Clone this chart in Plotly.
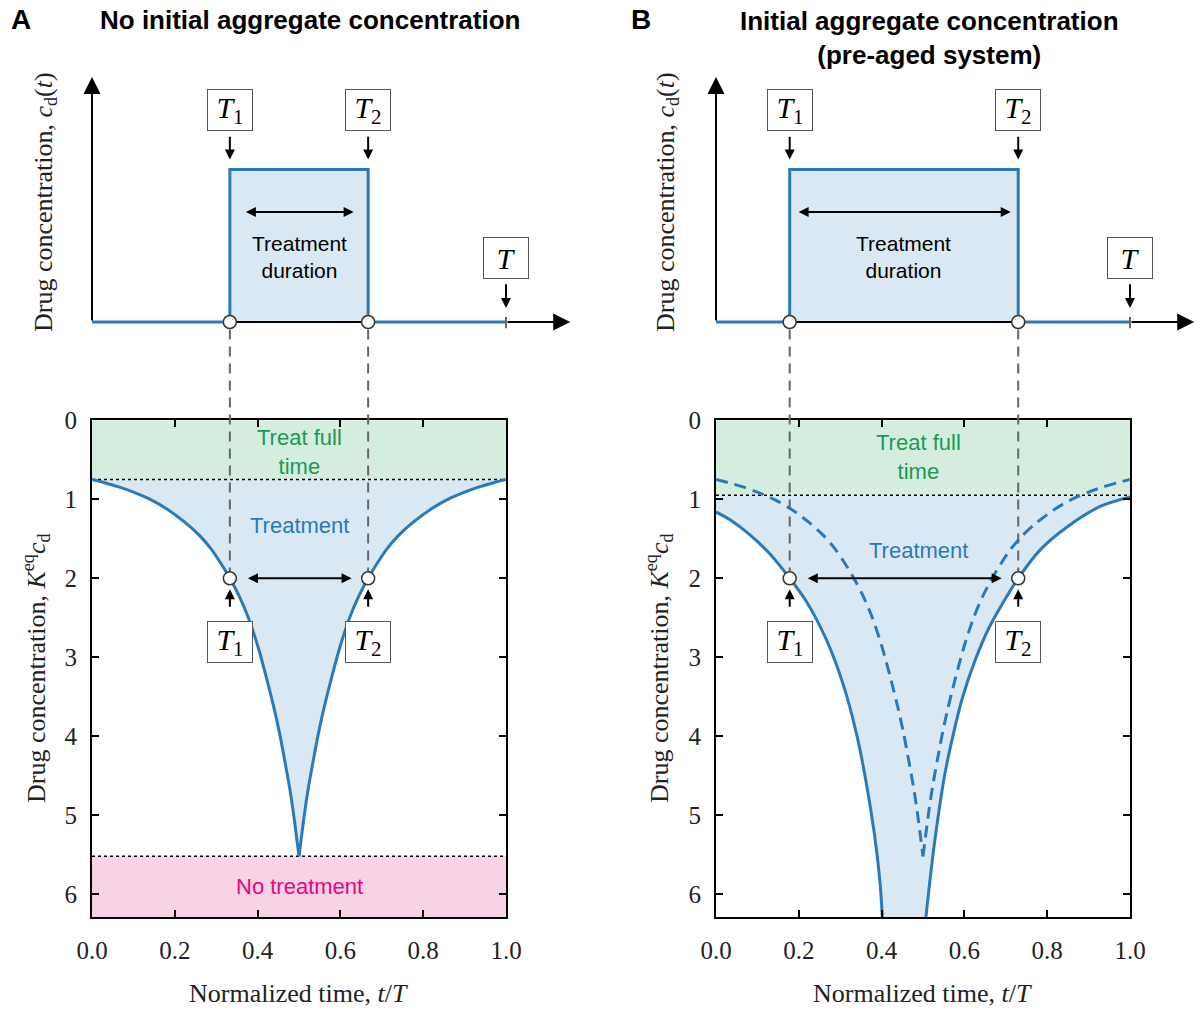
import plotly.graph_objects as go

W, H = 1198, 1011

# ---------------- data ----------------
# schematic (top row): treatment window and pulse level
a_T1, a_T2 = 0.333, 0.667
b_T1, b_T2 = 0.178, 0.730
T_end = 1.0
pulse_level = 0.6
marker_level = 2.0          # K^eq c_d level used to read T1, T2

# phase diagrams (bottom row)
a_full, a_none = 0.75, 5.52  # thresholds panel A
b_full = 0.95                # threshold panel B
y_bottom = 6.29

# panel A boundary (also the dashed curve in panel B)
a_left_t = [0.0, 0.03, 0.063, 0.10, 0.144, 0.18, 0.224, 0.26, 0.288, 0.31, 0.333,
            0.355, 0.377, 0.40, 0.421, 0.44, 0.453, 0.466, 0.477, 0.486, 0.493, 0.5]
a_left_y = [0.75, 0.79, 0.84, 0.91, 1.01, 1.12, 1.29, 1.46, 1.63, 1.80, 2.0,
            2.22, 2.49, 2.85, 3.25, 3.65, 3.96, 4.32, 4.64, 4.95, 5.23, 5.52]
a_right_t = [0.5, 0.507, 0.514, 0.523, 0.534, 0.547, 0.56, 0.579, 0.60, 0.623, 0.645,
             0.667, 0.69, 0.712, 0.74, 0.776, 0.82, 0.856, 0.90, 0.937, 0.97, 1.0]
a_right_y = [5.52, 5.23, 4.95, 4.64, 4.32, 3.96, 3.65, 3.25, 2.85, 2.49, 2.22,
             2.0, 1.80, 1.63, 1.46, 1.29, 1.12, 1.01, 0.91, 0.84, 0.79, 0.75]

# panel B solid boundary (pre-aged system)
b_left_t = [0.0, 0.034, 0.082, 0.130, 0.178, 0.218, 0.266, 0.307, 0.339, 0.363, 0.383, 0.396, 0.402]
b_left_y = [1.16, 1.26, 1.45, 1.69, 2.0, 2.29, 2.77, 3.34, 3.96, 4.59, 5.25, 5.84, 6.29]
b_right_t = [0.507, 0.513, 0.524, 0.537, 0.552, 0.572, 0.596, 0.625, 0.660, 0.700, 0.730, 0.783, 0.848, 0.928, 1.0]
b_right_y = [6.29, 6.0, 5.5, 5.0, 4.5, 4.0, 3.5, 3.05, 2.62, 2.25, 2.0, 1.64, 1.35, 1.09, 0.97]

x_ticks = [0.0, 0.2, 0.4, 0.6, 0.8, 1.0]
x_ticktext = ['0.0', '0.2', '0.4', '0.6', '0.8', '1.0']
y_ticks = [0, 1, 2, 3, 4, 5, 6]

# ---------------- style ----------------
SERIF = 'Liberation Serif, Times New Roman, serif'
SANS = 'Liberation Sans, Arial, sans-serif'
BLUE = '#2a7ab9'
BLUE_FILL = '#dae8f3'
GREEN_FILL = '#d5eddf'
PINK_FILL = '#f8d3e6'
GREEN_TXT = '#1a9a52'
PINK_TXT = '#e6067f'
GREY = '#666666'

TOP_RANGE_X = [0, 1.16]
TOP_RANGE_Y = [-0.1, 1.0]
PX_UNIT = 414


def dom_x(p0, p1):
    return [p0 / W, min(p1 / W, 1.0)]


def dom_y(ptop, pbot):
    return [1 - pbot / H, 1 - ptop / H]


top_dom_y = dom_y(68, 347.4)
bot_dom_y = dom_y(420.3, 917.2)


def top_paper(v):
    return top_dom_y[0] + (v - TOP_RANGE_Y[0]) / (TOP_RANGE_Y[1] - TOP_RANGE_Y[0]) * (top_dom_y[1] - top_dom_y[0])


def bot_paper(v):
    return bot_dom_y[1] - v / y_bottom * (bot_dom_y[1] - bot_dom_y[0])


fig = go.Figure()
annotations = []
shapes = []


def arrow(xref, yref, x, y, ax, ay, both=False, size=1.0, head=2):
    d = dict(xref=xref, yref=yref, axref=xref, ayref=yref, x=x, y=y, ax=ax, ay=ay,
             text='', showarrow=True, arrowhead=head, arrowsize=size, arrowwidth=2,
             arrowcolor='black', standoff=0, startstandoff=0)
    if both:
        d.update(arrowside='end+start', startarrowhead=head, startarrowsize=size)
    annotations.append(d)


def tbox(xref, yref, x, y, sub):
    txt = '<i>T</i>' + (f'<sub>{sub}</sub>' if sub else '')
    annotations.append(dict(xref=xref, yref=yref, x=x, y=y, text=txt, showarrow=False,
                            font=dict(family=SERIF, size=30, color='black'),
                            bordercolor='#555', borderwidth=1, borderpad=2,
                            bgcolor='white', width=40, height=36,
                            xanchor='center', yanchor='middle'))


def schematic(xa, ya, T1, T2, gap):
    fig.add_trace(go.Scatter(x=[T1, T1, T2, T2], y=[0, pulse_level, pulse_level, 0],
                             fill='toself', fillcolor=BLUE_FILL, mode='lines',
                             line=dict(width=0), xaxis=xa, yaxis=ya, hoverinfo='skip'))
    fig.add_trace(go.Scatter(x=[0, T_end], y=[0, 0], mode='lines',
                             line=dict(color='black', width=2), xaxis=xa, yaxis=ya))
    fig.add_trace(go.Scatter(x=[0, T1, T1, T2, T2, T_end], y=[0, 0, pulse_level, pulse_level, 0, 0],
                             mode='lines', line=dict(color=BLUE, width=3), xaxis=xa, yaxis=ya))
    fig.add_trace(go.Scatter(x=[T_end, T_end], y=[-0.025, 0.02], mode='lines',
                             line=dict(color=GREY, width=2), xaxis=xa, yaxis=ya))
    fig.add_trace(go.Scatter(x=[T1, T2], y=[0, 0], mode='markers', cliponaxis=False,
                             marker=dict(size=13, color='white', line=dict(color='#333', width=1.5)),
                             xaxis=xa, yaxis=ya))
    # axes arrows
    arrow(xa, ya, 0, 0.965, 0, 0, size=1.7)
    arrow(xa, ya, 1.155, 0, T_end, 0, size=1.7)
    for T, s in ((T1, '1'), (T2, '2')):
        tbox(xa, ya, T, 0.835, s)
        arrow(xa, ya, T, 0.64, T, 0.735)
    tbox(xa, ya, T_end, 0.252, '')
    arrow(xa, ya, T_end, 0.055, T_end, 0.155)
    arrow(xa, ya, T2 - gap, 0.433, T1 + gap, 0.433, both=True)
    annotations.append(dict(xref=xa, yref=ya, x=(T1 + T2) / 2, y=0.255, showarrow=False,
                            text='Treatment<br>duration', font=dict(family=SANS, size=21, color='black')))
    annotations.append(dict(xref=xa, yref=ya, x=1.053, y=-0.13, showarrow=False,
                            text='Time, <i>t</i>', font=dict(family=SERIF, size=26, color='#222')))


def connectors(xa, T1, T2):
    for T in (T1, T2):
        shapes.append(dict(type='line', xref=xa, yref='paper', x0=T, x1=T,
                           y0=top_paper(-0.03), y1=bot_paper(marker_level - 0.09),
                           line=dict(color=GREY, width=2, dash='10px,7px'), layer='above'))


def band(xa, ya, y0, y1, color):
    fig.add_trace(go.Scatter(x=[0, 1, 1, 0], y=[y0, y0, y1, y1], fill='toself', fillcolor=color,
                             mode='lines', line=dict(width=0), xaxis=xa, yaxis=ya, hoverinfo='skip'))


def hdot(xa, ya, yv):
    fig.add_trace(go.Scatter(x=[0, 1], y=[yv, yv], mode='lines',
                             line=dict(color='black', width=1.5, dash='dot'), xaxis=xa, yaxis=ya))


def curve(xa, ya, t, y, dash='solid'):
    fig.add_trace(go.Scatter(x=t, y=y, mode='lines', line=dict(color=BLUE, width=3, dash=dash,
                                                                 shape='spline', smoothing=0.8),
                             xaxis=xa, yaxis=ya))


def markers_bottom(xa, ya, T1, T2):
    fig.add_trace(go.Scatter(x=[T1, T2], y=[marker_level, marker_level], mode='markers', cliponaxis=False,
                             marker=dict(size=13, color='white', line=dict(color='#333', width=1.5)),
                             xaxis=xa, yaxis=ya))
    arrow(xa, ya, T2 - 0.04, marker_level, T1 + 0.04, marker_level, both=True)
    for T, s in ((T1, '1'), (T2, '2')):
        arrow(xa, ya, T, marker_level + 0.14, T, marker_level + 0.38)
        tbox(xa, ya, T, marker_level + 0.8, s)


# ---------------- panel A ----------------
schematic('x', 'y', a_T1, a_T2, 0.035)
band('x3', 'y3', 0, a_full, GREEN_FILL)
band('x3', 'y3', a_none, y_bottom, PINK_FILL)
fig.add_trace(go.Scatter(x=a_left_t + a_right_t[1:], y=a_left_y + a_right_y[1:], fill='toself',
                         fillcolor=BLUE_FILL, mode='lines', line=dict(width=0, shape='spline', smoothing=0.8),
                         xaxis='x3', yaxis='y3', hoverinfo='skip'))
hdot('x3', 'y3', a_full)
hdot('x3', 'y3', a_none)
curve('x3', 'y3', a_left_t, a_left_y)
curve('x3', 'y3', a_right_t, a_right_y)
markers_bottom('x3', 'y3', a_T1, a_T2)
connectors('x3', a_T1, a_T2)
annotations += [
    dict(xref='x3', yref='y3', x=0.5, y=0.40, text='Treat full<br>time', showarrow=False,
         font=dict(family=SANS, size=22, color=GREEN_TXT)),
    dict(xref='x3', yref='y3', x=0.5, y=1.33, text='Treatment', showarrow=False,
         font=dict(family=SANS, size=22, color=BLUE)),
    dict(xref='x3', yref='y3', x=0.5, y=5.9, text='No treatment', showarrow=False,
         font=dict(family=SANS, size=22, color=PINK_TXT)),
]

# ---------------- panel B ----------------
schematic('x2', 'y2', b_T1, b_T2, 0.018)
band('x4', 'y4', 0, b_full, GREEN_FILL)
fig.add_trace(go.Scatter(x=[0] + b_left_t + b_right_t + [1], y=[b_full] + b_left_y + b_right_y + [b_full],
                         fill='toself', fillcolor=BLUE_FILL, mode='lines',
                         line=dict(width=0, shape='spline', smoothing=0.8),
                         xaxis='x4', yaxis='y4', hoverinfo='skip'))
hdot('x4', 'y4', b_full)
curve('x4', 'y4', a_left_t, a_left_y, dash='12px,7px')
curve('x4', 'y4', a_right_t, a_right_y, dash='12px,7px')
curve('x4', 'y4', b_left_t, b_left_y)
curve('x4', 'y4', b_right_t, b_right_y)
markers_bottom('x4', 'y4', b_T1, b_T2)
connectors('x4', b_T1, b_T2)
annotations += [
    dict(xref='x4', yref='y4', x=0.488, y=0.47, text='Treat full<br>time', showarrow=False,
         font=dict(family=SANS, size=22, color=GREEN_TXT)),
    dict(xref='x4', yref='y4', x=0.488, y=1.65, text='Treatment', showarrow=False,
         font=dict(family=SANS, size=22, color=BLUE)),
]

# ---------------- page texts ----------------
def ptext(x, y, text, size, family=SERIF, angle=0, color='black'):
    annotations.append(dict(xref='paper', yref='paper', x=x / W, y=1 - y / H, text=text,
                            showarrow=False, textangle=angle, xanchor='center', yanchor='middle',
                            font=dict(family=family, size=size, color=color)))


ptext(21, 20, '<b>A</b>', 28, SANS)
ptext(641, 20, '<b>B</b>', 28, SANS)
ptext(310, 20, '<b>No initial aggregate concentration</b>', 26, SANS)
ptext(929, 38, '<b>Initial aggregate concentration</b><br><b>(pre-aged system)</b>', 26, SANS)
ytop = 'Drug concentration, <i>c</i><sub>d</sub>(<i>t</i>)'
ybot = 'Drug concentration, <i>K</i><sup>eq</sup><i>c</i><sub>d</sub>'
xbot = 'Normalized time, <i>t</i>/<i>T</i>'
ptext(45, 202, ytop, 26, angle=-90, color='#222')
ptext(667, 202, ytop, 26, angle=-90, color='#222')
ptext(36, 668, ybot, 26, angle=-90, color='#222')
ptext(659, 668, ybot, 26, angle=-90, color='#222')
ptext(298, 993, xbot, 26, color='#222')
ptext(922, 993, xbot, 26, color='#222')

# ---------------- axes ----------------
hidden = dict(visible=False, showgrid=False, zeroline=False, fixedrange=True, automargin=False)
bot_x = dict(range=[0, 1], tickvals=x_ticks, ticktext=x_ticktext, showline=True, linecolor='black',
             linewidth=2, mirror='ticks', ticks='inside', ticklen=7, tickwidth=2, tickcolor='black',
             showgrid=False, zeroline=False, ticklabelstandoff=10, automargin=False,
             tickfont=dict(family=SERIF, size=25, color='#222'))
bot_y = dict(range=[y_bottom, 0], tickvals=y_ticks, showline=True, linecolor='black',
             linewidth=2, mirror='ticks', ticks='inside', ticklen=7, tickwidth=2, tickcolor='black',
             showgrid=False, zeroline=False, ticklabelstandoff=8, automargin=False,
             tickfont=dict(family=SERIF, size=25, color='#222'))

fig.update_layout(
    width=W, height=H, margin=dict(l=0, r=0, t=0, b=0, autoexpand=False),
    paper_bgcolor='white', plot_bgcolor='rgba(0,0,0,0)', showlegend=False,
    xaxis=dict(domain=dom_x(92, 92 + 1.16 * PX_UNIT), range=TOP_RANGE_X, anchor='y', **hidden),
    yaxis=dict(domain=top_dom_y, range=TOP_RANGE_Y, anchor='x', **hidden),
    xaxis2=dict(domain=dom_x(716, 716 + 1.16 * PX_UNIT), range=TOP_RANGE_X, anchor='y2', **hidden),
    yaxis2=dict(domain=top_dom_y, range=TOP_RANGE_Y, anchor='x2', **hidden),
    xaxis3=dict(domain=dom_x(92, 506), anchor='y3', **bot_x),
    yaxis3=dict(domain=bot_dom_y, anchor='x3', **bot_y),
    xaxis4=dict(domain=dom_x(716, 1130), anchor='y4', **bot_x),
    yaxis4=dict(domain=bot_dom_y, anchor='x4', **bot_y),
    annotations=annotations, shapes=shapes,
)

fig.write_html('out.html')
